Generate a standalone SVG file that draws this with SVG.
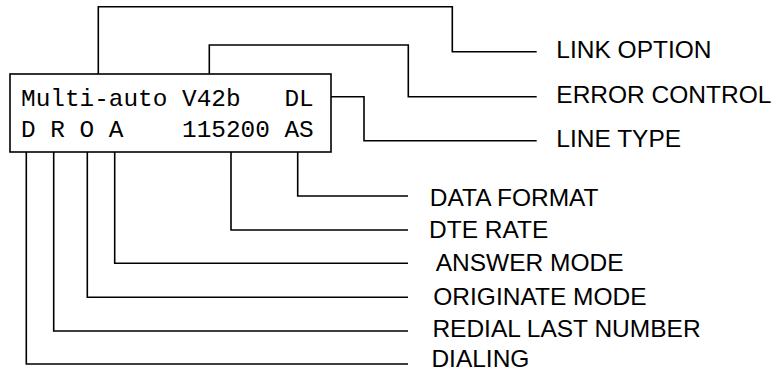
<svg xmlns="http://www.w3.org/2000/svg" width="778" height="376" viewBox="0 0 778 376">
<style>
.ln{fill:none;stroke:#000;stroke-width:1.6}
.mono{font-family:"Liberation Mono","Courier New",monospace;font-size:24.4px;fill:#000}
.lbl{font-family:"Liberation Sans",Arial,sans-serif;font-size:24.5px;fill:#000}
</style>
<rect width="778" height="376" fill="#fff"/>
<g id="display">
<rect x="10" y="74" width="321" height="78" class="ln" fill="#fff"/>
<text x="21" y="106" class="mono" xml:space="preserve">Multi-auto V42b   DL</text>
<text x="21" y="137" class="mono" xml:space="preserve">D R O A    115200 AS</text>
</g>
<g id="connectors">
<polyline class="ln" points="98.3,74 98.3,6.7 452.3,6.7 452.3,51.7 536.7,51.7"/>
<polyline class="ln" points="209.3,74 209.3,45 408.3,45 408.3,96.7 536.7,96.7"/>
<polyline class="ln" points="331,96.7 364,96.7 364,140.7 536.7,140.7"/>
<polyline class="ln" points="297.7,152 297.7,196 408,196"/>
<polyline class="ln" points="231,152 231,230 408,230"/>
<polyline class="ln" points="114.7,152 114.7,263.3 408,263.3"/>
<polyline class="ln" points="87.3,152 87.3,297.3 408,297.3"/>
<polyline class="ln" points="53.7,152 53.7,331 408,331"/>
<polyline class="ln" points="26.3,152 26.3,364 408,364"/>
</g>
<g id="label-link-option"><text x="556.3" y="58.3" class="lbl">LINK OPTION</text></g>
<g id="label-error-control"><text x="556.3" y="103.3" class="lbl">ERROR CONTROL</text></g>
<g id="label-line-type"><text x="556.3" y="146.7" class="lbl">LINE TYPE</text></g>
<g id="label-data-format"><text x="429.8" y="206" class="lbl">DATA FORMAT</text></g>
<g id="label-dte-rate"><text x="429" y="238.3" class="lbl">DTE RATE</text></g>
<g id="label-answer-mode"><text x="435.7" y="270.7" class="lbl">ANSWER MODE</text></g>
<g id="label-originate-mode"><text x="433.3" y="305" class="lbl">ORIGINATE MODE</text></g>
<g id="label-redial"><text x="432.4" y="337.3" class="lbl">REDIAL LAST NUMBER</text></g>
<g id="label-dialing"><text x="431.4" y="367.3" class="lbl">DIALING</text></g>
</svg>
